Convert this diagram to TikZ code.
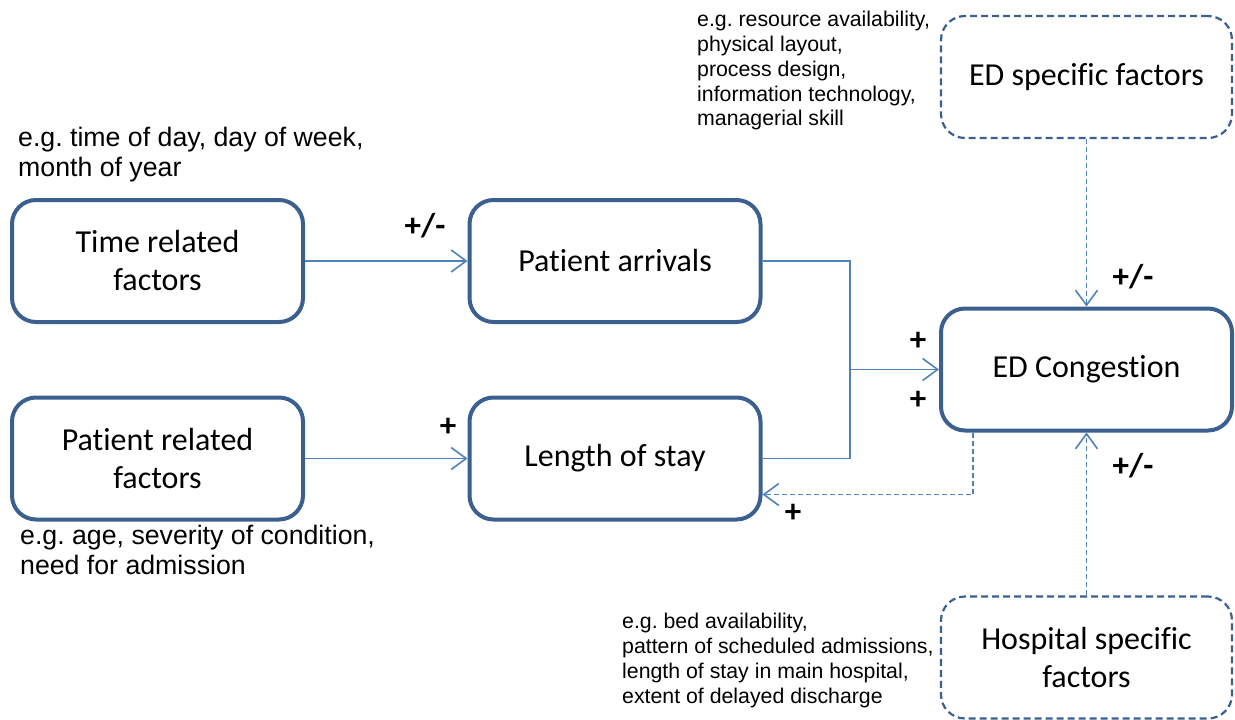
\documentclass[tikz,border=0pt]{standalone}
\usepackage{fontspec}
\setmainfont[Ligatures=CommonOff]{Carlito}
\newfontfamily\arialf{Liberation Sans}
\usetikzlibrary{arrows.meta,calc}
\frenchspacing
\definecolor{boxblue}{HTML}{3B6090}
\definecolor{linkblue}{HTML}{4F81BD}
\tikzset{
  mainbox/.style={draw=boxblue,line width=4pt,rounded corners=24pt,minimum width=291pt,minimum height=122pt,align=center,font=\fontsize{32}{38}\selectfont,inner sep=0pt},
  dashbox/.style={draw=boxblue,line width=2.2pt,dash pattern=on 7pt off 4pt,rounded corners=24pt,minimum width=291pt,minimum height=122pt,align=center,font=\fontsize{32}{38}\selectfont,inner sep=0pt},
  link/.style={draw=linkblue,line width=1.6pt,-{Straight Barb[length=15pt,width=22pt,line width=1.6pt]}},
  plain/.style={draw=linkblue,line width=1.6pt},
  fbk/.style={link,dash pattern=on 5pt off 3pt},
  sign/.style={font=\bfseries\fontsize{33}{33}\selectfont,inner sep=0pt},
  note/.style={align=left,anchor=north west,inner sep=0pt},
  bignote/.style={note,font=\arialf\fontsize{26.7}{30}\selectfont},
  smallnote/.style={note,font=\arialf\fontsize{21.3}{24.8}\selectfont},
}
\begin{document}
\begin{tikzpicture}[x=1pt,y=-1pt]
\useasboundingbox (0,0) rectangle (1235,720);
% boxes
\node[mainbox] (time) at (157.5,261) {Time related\\factors};
\node[mainbox] (arr) at (615,261) {Patient arrivals};
\node[mainbox] (pat) at (157.5,458.5) {Patient related\\factors};
\node[mainbox] (los) at (615,458.5) {Length of stay};
\node[mainbox] (edc) at (1086.5,369.5) {ED Congestion};
\node[dashbox] (eds) at (1086.5,77) {ED specific factors};
\node[dashbox] (hos) at (1086.5,657.5) {Hospital specific\\factors};
% connectors
\draw[link] (time.east) -- (arr.west);
\draw[link] (pat.east) -- (los.west);
\coordinate (jn) at (850,369.5);
\draw[plain] (arr.east) -| (jn);
\draw[plain] (los.east) -| (jn);
\draw[link] (jn) -- (edc.west);
\draw[fbk] ($(edc.south west)+(34,0)$) |- ($(los.east)+(0,36)$);
\draw[link,dash pattern=on 5pt off 3pt] (eds.south) -- (edc.north);
\draw[link,dash pattern=on 5pt off 3pt] (hos.north) -- (edc.south);
% signs
\node[sign] (s1) at (425,226) {+/-};
\node[sign] (s2) at (448,427) {+};
\node[sign] (s3) at (918,341) {+};
\node[sign] (s4) at (918,400) {+};
\node[sign] (s5) at (793,513) {+};
\node[sign] (s6) at (1133,277) {+/-};
\node[sign] (s7) at (1133,466) {+/-};
% notes
\node[bignote] (n1) at (18,127) {e.g. time of day, day of week,\\month of year};
\node[bignote] (n2) at (20,525) {e.g. age, severity of condition,\\need for admission};
\node[smallnote] (n3) at (697,11) {e.g. resource availability,\\physical layout,\\process design,\\information technology,\\managerial skill};
\node[smallnote] (n4) at (622,613) {e.g. bed availability,\\pattern of scheduled admissions,\\length of stay in main hospital,\\extent of delayed discharge};
\end{tikzpicture}
\end{document}
